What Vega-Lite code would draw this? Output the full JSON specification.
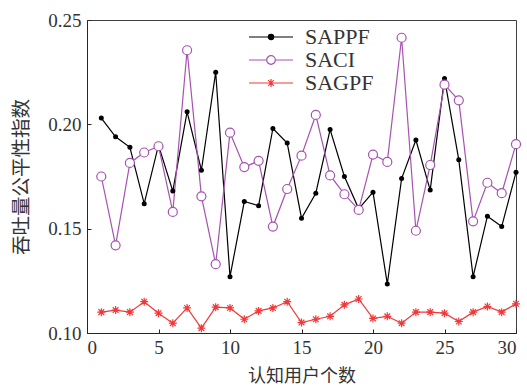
{
  "$schema": "https://vega.github.io/schema/vega-lite/v6.json",
  "width": 429,
  "height": 313,
  "autosize": {"type": "none"},
  "padding": {"left": 87, "top": 20, "right": 11, "bottom": 54},
  "background": "white",
  "config": {
    "view": {"stroke": "#404040", "strokeWidth": 1},
    "axis": {
      "labelFont": "Times New Roman, Liberation Serif, DejaVu Serif, serif",
      "labelFontSize": 19,
      "labelColor": "#333333",
      "domainColor": "#262626",
      "tickColor": "#262626",
      "grid": false,
      "titleFont": "Noto Sans CJK SC",
      "titleFontSize": 18,
      "titleFontWeight": "normal",
      "titleColor": "#333333"
    }
  },
  "data": {
    "values": [
      {"x": 1, "series": "SAPPF", "y": 0.203}, {"x": 2, "series": "SAPPF", "y": 0.194}, {"x": 3, "series": "SAPPF", "y": 0.189},
      {"x": 4, "series": "SAPPF", "y": 0.162}, {"x": 5, "series": "SAPPF", "y": 0.190}, {"x": 6, "series": "SAPPF", "y": 0.168},
      {"x": 7, "series": "SAPPF", "y": 0.206}, {"x": 8, "series": "SAPPF", "y": 0.178}, {"x": 9, "series": "SAPPF", "y": 0.225},
      {"x": 10, "series": "SAPPF", "y": 0.127}, {"x": 11, "series": "SAPPF", "y": 0.163}, {"x": 12, "series": "SAPPF", "y": 0.161},
      {"x": 13, "series": "SAPPF", "y": 0.198}, {"x": 14, "series": "SAPPF", "y": 0.191}, {"x": 15, "series": "SAPPF", "y": 0.155},
      {"x": 16, "series": "SAPPF", "y": 0.167}, {"x": 17, "series": "SAPPF", "y": 0.1975}, {"x": 18, "series": "SAPPF", "y": 0.175},
      {"x": 19, "series": "SAPPF", "y": 0.1595}, {"x": 20, "series": "SAPPF", "y": 0.1675}, {"x": 21, "series": "SAPPF", "y": 0.1235},
      {"x": 22, "series": "SAPPF", "y": 0.174}, {"x": 23, "series": "SAPPF", "y": 0.1925}, {"x": 24, "series": "SAPPF", "y": 0.1685},
      {"x": 25, "series": "SAPPF", "y": 0.222}, {"x": 26, "series": "SAPPF", "y": 0.183}, {"x": 27, "series": "SAPPF", "y": 0.127},
      {"x": 28, "series": "SAPPF", "y": 0.156}, {"x": 29, "series": "SAPPF", "y": 0.151}, {"x": 30, "series": "SAPPF", "y": 0.177},
      {"x": 1, "series": "SACI", "y": 0.175}, {"x": 2, "series": "SACI", "y": 0.142}, {"x": 3, "series": "SACI", "y": 0.1815},
      {"x": 4, "series": "SACI", "y": 0.1865}, {"x": 5, "series": "SACI", "y": 0.1895}, {"x": 6, "series": "SACI", "y": 0.158},
      {"x": 7, "series": "SACI", "y": 0.2355}, {"x": 8, "series": "SACI", "y": 0.1655}, {"x": 9, "series": "SACI", "y": 0.133},
      {"x": 10, "series": "SACI", "y": 0.196}, {"x": 11, "series": "SACI", "y": 0.1795}, {"x": 12, "series": "SACI", "y": 0.1825},
      {"x": 13, "series": "SACI", "y": 0.151}, {"x": 14, "series": "SACI", "y": 0.169}, {"x": 15, "series": "SACI", "y": 0.185},
      {"x": 16, "series": "SACI", "y": 0.2045}, {"x": 17, "series": "SACI", "y": 0.1755}, {"x": 18, "series": "SACI", "y": 0.1665},
      {"x": 19, "series": "SACI", "y": 0.159}, {"x": 20, "series": "SACI", "y": 0.1855}, {"x": 21, "series": "SACI", "y": 0.182},
      {"x": 22, "series": "SACI", "y": 0.2415}, {"x": 23, "series": "SACI", "y": 0.149}, {"x": 24, "series": "SACI", "y": 0.1805},
      {"x": 25, "series": "SACI", "y": 0.219}, {"x": 26, "series": "SACI", "y": 0.2115}, {"x": 27, "series": "SACI", "y": 0.1535},
      {"x": 28, "series": "SACI", "y": 0.172}, {"x": 29, "series": "SACI", "y": 0.167}, {"x": 30, "series": "SACI", "y": 0.1905},
      {"x": 1, "series": "SAGPF", "y": 0.110}, {"x": 2, "series": "SAGPF", "y": 0.111}, {"x": 3, "series": "SAGPF", "y": 0.110},
      {"x": 4, "series": "SAGPF", "y": 0.115}, {"x": 5, "series": "SAGPF", "y": 0.1095}, {"x": 6, "series": "SAGPF", "y": 0.1047},
      {"x": 7, "series": "SAGPF", "y": 0.112}, {"x": 8, "series": "SAGPF", "y": 0.1023}, {"x": 9, "series": "SAGPF", "y": 0.1124},
      {"x": 10, "series": "SAGPF", "y": 0.112}, {"x": 11, "series": "SAGPF", "y": 0.1066}, {"x": 12, "series": "SAGPF", "y": 0.1106},
      {"x": 13, "series": "SAGPF", "y": 0.112}, {"x": 14, "series": "SAGPF", "y": 0.115}, {"x": 15, "series": "SAGPF", "y": 0.105},
      {"x": 16, "series": "SAGPF", "y": 0.1066}, {"x": 17, "series": "SAGPF", "y": 0.108}, {"x": 18, "series": "SAGPF", "y": 0.1135},
      {"x": 19, "series": "SAGPF", "y": 0.1163}, {"x": 20, "series": "SAGPF", "y": 0.107}, {"x": 21, "series": "SAGPF", "y": 0.108},
      {"x": 22, "series": "SAGPF", "y": 0.1047}, {"x": 23, "series": "SAGPF", "y": 0.110}, {"x": 24, "series": "SAGPF", "y": 0.110},
      {"x": 25, "series": "SAGPF", "y": 0.1095}, {"x": 26, "series": "SAGPF", "y": 0.1055}, {"x": 27, "series": "SAGPF", "y": 0.110},
      {"x": 28, "series": "SAGPF", "y": 0.1127}, {"x": 29, "series": "SAGPF", "y": 0.110}, {"x": 30, "series": "SAGPF", "y": 0.114}
    ]
  },
  "encoding": {
    "x": {
      "field": "x", "type": "quantitative",
      "scale": {"domain": [0, 30], "nice": false},
      "axis": {"values": [0, 5, 10, 15, 20, 25, 30], "format": "d", "title": "认知用户个数", "tickSize": -4, "labelPadding": 9, "titlePadding": 10}
    },
    "y": {
      "field": "y", "type": "quantitative",
      "scale": {"domain": [0.10, 0.25], "nice": false, "zero": false},
      "axis": {"values": [0.10, 0.15, 0.20, 0.25], "format": ".2f", "title": "吞吐量公平性指数", "titleFontSize": 19.5, "tickSize": -4, "labelPadding": 10, "titlePadding": 16}
    }
  },
  "layer": [
    {
      "mark": {"type": "line", "strokeWidth": 1.2, "clip": true},
      "encoding": {
        "color": {
          "field": "series", "type": "nominal",
          "scale": {"domain": ["SAPPF", "SACI", "SAGPF"], "range": ["#000000", "#a652b0", "#f23838"]},
          "legend": {
            "title": null,
            "orient": "none",
            "legendX": 161,
            "legendY": 5,
            "padding": 0,
            "symbolSize": 484,
            "symbolStrokeWidth": 1.2,
            "labelFont": "Times New Roman, Liberation Serif, DejaVu Serif, serif",
            "labelFontSize": 22,
            "labelColor": "#333333",
            "labelOffset": 33,
            "rowPadding": 0,
            "encode": {
              "symbols": {
                "update": {
                  "shape": {"signal": "datum.value === 'SAPPF' ? 'M-1,0L3,0M1.245,0A0.245,0.245,0,1,1,0.755,0A0.245,0.245,0,1,1,1.245,0Z' : datum.value === 'SACI' ? 'M-1,0L0.61,0M1.39,0L3,0M1.39,0A0.39,0.39,0,1,1,0.61,0A0.39,0.39,0,1,1,1.39,0Z' : 'M-1,0L3,0M1,-0.36L1,0.36M0.74,-0.26L1.26,0.26M0.74,0.26L1.26,-0.26'"},
                  "fill": {"signal": "datum.value === 'SAPPF' ? '#000000' : 'transparent'"}
                }
              }
            }
          }
        }
      }
    },
    {
      "transform": [{"filter": "datum.series === 'SAPPF'"}],
      "mark": {"type": "point", "shape": "circle", "filled": true, "size": 25, "color": "#000000", "opacity": 1}
    },
    {
      "transform": [{"filter": "datum.series === 'SACI'"}],
      "mark": {"type": "point", "shape": "circle", "filled": false, "size": 81, "stroke": "#a652b0", "fill": "white", "fillOpacity": 1, "strokeWidth": 1.2, "opacity": 1}
    },
    {
      "transform": [{"filter": "datum.series === 'SAGPF'"}],
      "mark": {"type": "point", "shape": "M-1,0L1,0M0,-1L0,1M-0.71,-0.71L0.71,0.71M-0.71,0.71L0.71,-0.71", "filled": false, "size": 64, "stroke": "#f23838", "strokeWidth": 1.2, "opacity": 1, "clip": false}
    }
  ]
}
